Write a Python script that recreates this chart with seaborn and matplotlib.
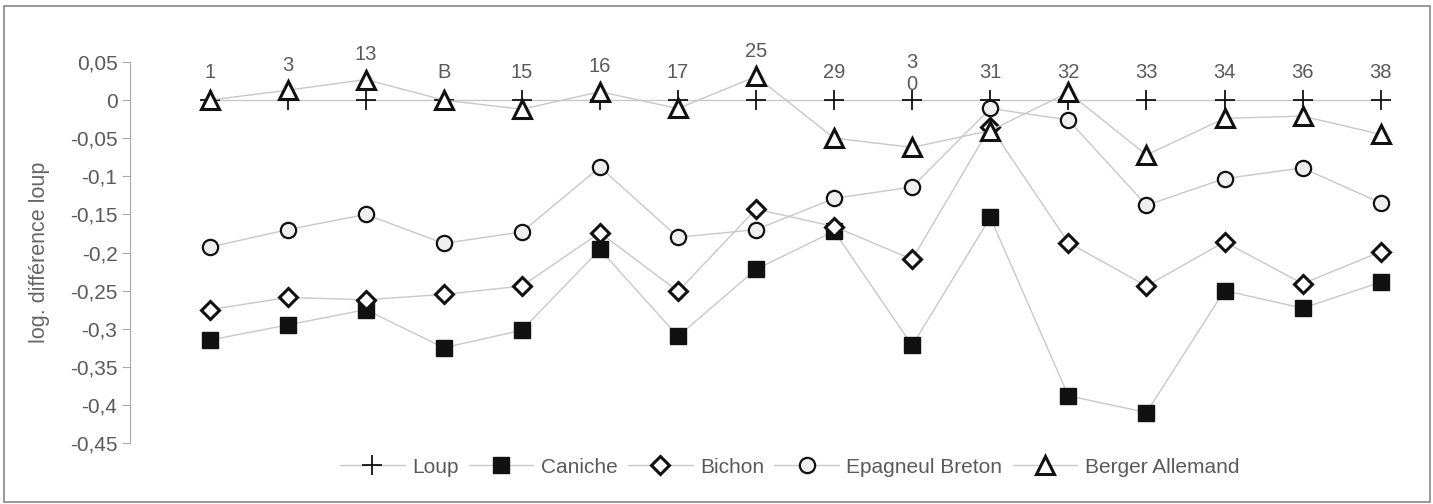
import pandas as pd
import seaborn as sns
import matplotlib.pyplot as plt
from matplotlib.patches import Rectangle
from matplotlib.ticker import FixedLocator, FuncFormatter

# categories shown above the points
labels = ["1", "3", "13", "B", "15", "16", "17", "25", "29", "3\n0", "31", "32", "33", "34", "36", "38"]

loup = [0] * 16
caniche = [-0.315, -0.295, -0.275, -0.325, -0.302, -0.196, -0.31, -0.222, -0.172, -0.322,
           -0.154, -0.388, -0.41, -0.25, -0.273, -0.239]
bichon = [-0.275, -0.259, -0.262, -0.255, -0.244, -0.174, -0.251, -0.143, -0.166, -0.209,
          -0.035, -0.187, -0.244, -0.186, -0.241, -0.199]
epagneul = [-0.193, -0.17, -0.15, -0.188, -0.173, -0.088, -0.18, -0.17, -0.129, -0.114,
            -0.011, -0.026, -0.138, -0.103, -0.089, -0.135]
berger = [0.0, 0.013, 0.027, 0.0, -0.012, 0.011, -0.011, 0.031, -0.05, -0.062,
          -0.04, 0.01, -0.072, -0.024, -0.021, -0.045]

yticks = [0.05, 0, -0.05, -0.1, -0.15, -0.2, -0.25, -0.3, -0.35, -0.4, -0.45]

sns.set_style("white")
plt.rcParams["font.family"] = ["Liberation Sans", "DejaVu Sans"]

fig = plt.figure(figsize=(14.33, 5.04), dpi=100)
ax = fig.add_axes([0.0907, 0.121, 0.9, 0.756])

x = list(range(len(labels)))
line_c = "#c8c8c8"
txt_c = "#5a5a5a"

#series: name, values, marker, size, facecolor, edge width
series = [
    ("Loup", loup, "+", 15, "black", 1.3),
    ("Caniche", caniche, "s", 11, "#111111", 1.0),
    ("Bichon", bichon, "D", 9, "white", 2.2),
    ("Epagneul Breton", epagneul, "o", 11, "#efefef", 1.6),
    ("Berger Allemand", berger, "^", 13, "white", 2.2),
]
for name, vals, m, ms, fc, mew in series:
    sns.lineplot(x=x, y=vals, ax=ax, color=line_c, linewidth=1.0, marker=m, markersize=ms,
                 markerfacecolor=fc, markeredgecolor="#111111", markeredgewidth=mew,
                 label=name, sort=False, clip_on=False, legend=False)

# category labels above the loup line, pushed up when the triangle is higher
for i, lab in enumerate(labels):
    if berger[i] > 0.0105:
        top, yoff = berger[i], 18
    else:
        top, yoff = loup[i], 20
    if "\n" in lab:
        yoff = 19
    ax.annotate(lab, (i, top), xytext=(0, yoff), textcoords="offset points",
                ha="center", va="center", fontsize=14.5, color=txt_c, linespacing=1.2,
                annotation_clip=False)

ax.set_xlim(-1.02, 15.5)
ax.set_ylim(-0.45, 0.05)
ax.yaxis.set_major_locator(FixedLocator(yticks))
ax.yaxis.set_major_formatter(FuncFormatter(lambda v, p: ("%g" % round(v, 2)).replace(".", ",")))
ax.set_xticks([])
ax.tick_params(axis="y", length=6, width=0.8, color="#aaaaaa", labelsize=15,
               labelcolor=txt_c, direction="out", left=True, pad=3)
for s in ["top", "right", "bottom"]:
    ax.spines[s].set_visible(False)
ax.spines["left"].set_color("#aaaaaa")
ax.spines["left"].set_linewidth(0.8)
ax.set_ylabel("log. différence loup", fontsize=15.5, color="#666666", labelpad=14)

handles, names = ax.get_legend_handles_labels()
fig.legend(handles, names, loc="center", bbox_to_anchor=(0.551, 0.073), ncol=5,
           frameon=False, fontsize=15, handlelength=3.1, columnspacing=0.5,
           handletextpad=0.35, labelcolor=txt_c)

fig.patches.append(Rectangle((0.003, 0.004), 0.995, 0.984, transform=fig.transFigure,
                             fill=False, edgecolor="#888888", linewidth=1.2))

plt.savefig("out.png", dpi=100)
